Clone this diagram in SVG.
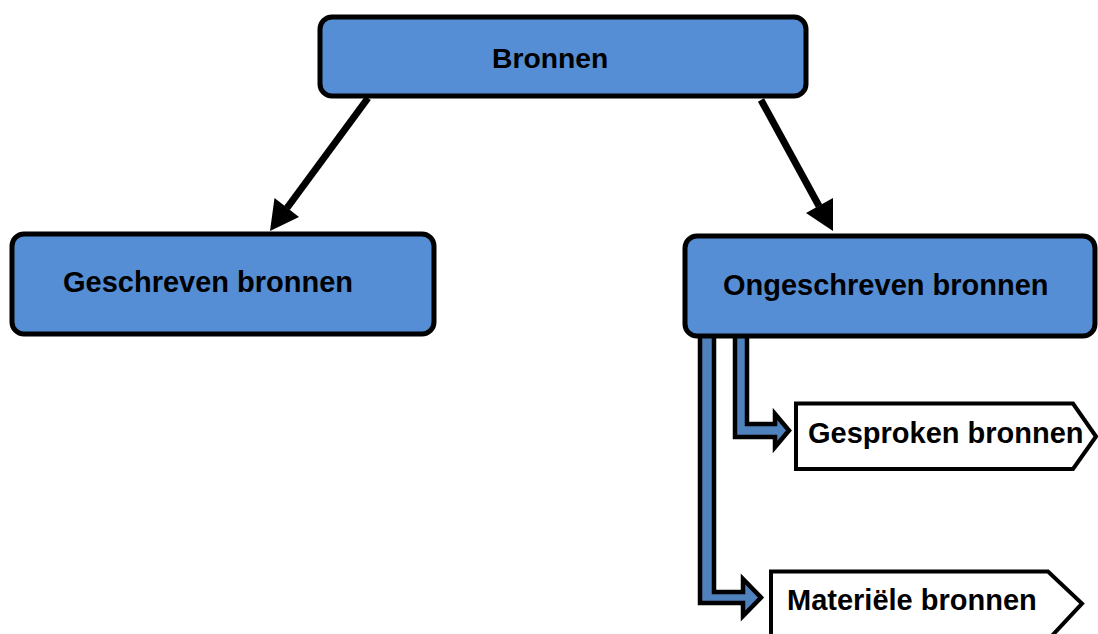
<svg xmlns="http://www.w3.org/2000/svg" width="1098" height="634" viewBox="0 0 1098 634">
<style>
.box{fill:#558ED5;stroke:#000;stroke-width:5}
.tag{fill:#fff;stroke:#000;stroke-width:4;stroke-linejoin:miter}
.blk{fill:#4F81BD;stroke:#000;stroke-width:4.5;stroke-linejoin:miter}
.lbl{font-family:"Liberation Sans",Arial,sans-serif;font-weight:bold;font-size:29px;fill:#000}
.ln{stroke:#000;stroke-width:7;fill:none}
.hd{fill:#000}
</style>
<rect width="1098" height="634" fill="#fff"/>
<g id="connectors">
<line class="ln" x1="368" y1="98" x2="287" y2="208"/>
<polygon class="hd" points="270,231 299,217 274.5,198"/>
<line class="ln" x1="761" y1="100" x2="819" y2="206"/>
<polygon class="hd" points="833,231 833,198 806,213"/>
<polygon class="blk" points="700,330 714,330 714,592 743,592 743,579 761,597.5 743,616 743,603 700,603"/>
<polygon class="blk" points="735,330 747,330 747,424 775,424 775,414 789,430.5 775,447 775,437 735,437"/>
</g>
<g id="bronnen">
<rect class="box" x="320" y="17" width="486" height="79" rx="12"/>
<text class="lbl" x="492" y="68" style="font-size:28.3px">Bronnen</text>
</g>
<g id="geschreven">
<rect class="box" x="12" y="234" width="422" height="100" rx="12"/>
<text class="lbl" x="63" y="292">Geschreven bronnen</text>
</g>
<g id="ongeschreven">
<rect class="box" x="685" y="236" width="410" height="100" rx="12"/>
<text class="lbl" x="723" y="295">Ongeschreven bronnen</text>
</g>
<g id="gesproken">
<polygon class="tag" points="796,403.5 1073,403.5 1096,436.5 1073,469 796,469"/>
<text class="lbl" x="808" y="443">Gesproken bronnen</text>
</g>
<g id="materieel">
<polygon class="tag" points="771,571.5 1048,571.5 1082,603.5 1048,640 771,640"/>
<text class="lbl" x="787" y="610">Materiële bronnen</text>
</g>
</svg>
